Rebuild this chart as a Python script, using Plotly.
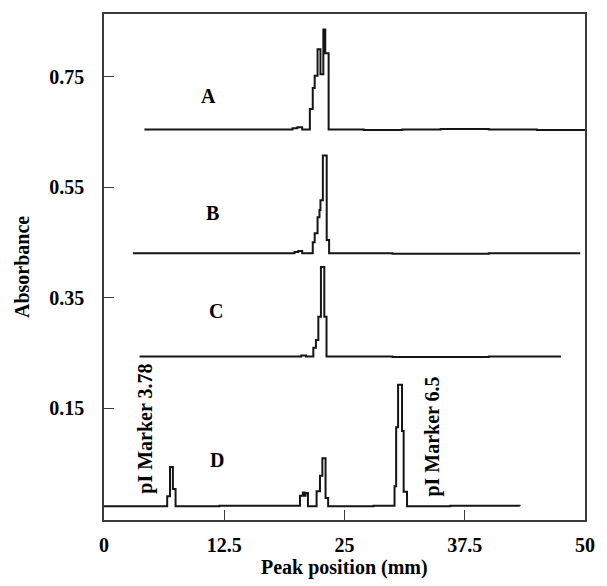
import plotly.graph_objects as go

# Densitometer scans of the gel lanes, drawn as stepped traces
# (peak position in mm, absorbance)
lane_a_x = [4.2, 12.0, 19.6, 20.1, 20.6, 21.4, 21.7, 21.9, 22.2, 22.5, 22.8, 23.0, 23.35,
            27.0, 31.0, 35.0, 40.0, 45.0, 50.0]
lane_a_y = [0.655, 0.655, 0.657, 0.659, 0.655, 0.692, 0.730, 0.752, 0.800, 0.755, 0.836, 0.793, 0.655,
            0.654, 0.655, 0.656, 0.655, 0.654, 0.654]

lane_b_x = [3.0, 10.0, 19.8, 20.2, 20.6, 21.7, 21.9, 22.2, 22.4, 22.5, 22.75, 23.15, 23.4,
            30.0, 40.0, 49.5]
lane_b_y = [0.431, 0.431, 0.433, 0.435, 0.431, 0.451, 0.467, 0.496, 0.509, 0.527, 0.608, 0.455, 0.431,
            0.430, 0.431, 0.431]

lane_c_x = [3.7, 15.0, 20.5, 21.0, 21.76, 22.03, 22.28, 22.55, 22.9, 23.13, 30.0, 40.0, 47.5]
lane_c_y = [0.244, 0.244, 0.246, 0.244, 0.260, 0.274, 0.316, 0.406, 0.316, 0.244, 0.243, 0.244, 0.244]

lane_d_x = [0.0, 6.57, 6.86, 7.16, 7.44, 12.0, 20.37, 20.67, 20.85, 20.95, 21.2,
            22.1, 22.45, 22.7, 23.03, 23.3, 28.0, 30.2, 30.37, 30.57, 30.98, 31.15, 31.5,
            36.0, 43.2]
lane_d_y = [-0.027, -0.009, 0.044, 0.004, -0.027, -0.026, -0.008, -0.002, -0.008, -0.003, -0.027,
            0.000, 0.028, 0.060, -0.012, -0.027, -0.026, 0.009, 0.116, 0.193, 0.109, -0.001, -0.027,
            -0.026, -0.027]

lanes = [(lane_a_x, lane_a_y), (lane_b_x, lane_b_y), (lane_c_x, lane_c_y), (lane_d_x, lane_d_y)]

# Lane letters and marker labels
lane_labels = ["A", "B", "C", "D"]
lane_label_x = [10.85, 11.26, 11.67, 11.77]
lane_label_y = [0.716, 0.503, 0.327, 0.056]

marker_labels = ["pI Marker 3.78", "pI Marker 6.5"]
marker_x = [4.3, 34.2]
marker_y = [0.114, 0.099]

x_ticks = [0, 12.5, 25, 37.5, 50]
x_tick_text = ["0", "12.5", "25", "37.5", "50"]
y_ticks = [0.15, 0.35, 0.55, 0.75]
y_tick_text = ["0.15", "0.35", "0.55", "0.75"]

FONT = "Liberation Serif, Times New Roman, serif"

fig = go.Figure()
for lx, ly in lanes:
    fig.add_trace(go.Scatter(
        x=lx, y=ly, mode="lines", line_shape="hv",
        line=dict(color="#151515", width=2.0),
        showlegend=False, hoverinfo="skip",
    ))

for txt, tx, ty in zip(lane_labels, lane_label_x, lane_label_y):
    fig.add_annotation(x=tx, y=ty, text=f"<b>{txt}</b>", showarrow=False,
                       font=dict(family=FONT, size=20, color="black"))

for txt, tx, ty in zip(marker_labels, marker_x, marker_y):
    fig.add_annotation(x=tx, y=ty, text=f"<b>{txt}</b>", showarrow=False, textangle=-90,
                       font=dict(family=FONT, size=20, color="black"))

fig.add_annotation(xref="paper", yref="paper", x=0.5, y=0, yshift=-47,
                   text="<b>Peak position (mm)</b>", showarrow=False, yanchor="middle",
                   font=dict(family=FONT, size=20, color="black"))
fig.add_annotation(xref="paper", yref="paper", x=0, xshift=-82, y=0.5,
                   text="<b>Absorbance</b>", showarrow=False, textangle=-90, xanchor="center",
                   font=dict(family=FONT, size=20, color="black"))

axis_common = dict(
    showgrid=False, zeroline=False, showline=True, mirror=True,
    linecolor="#3a3a3a", linewidth=1.5,
    ticks="inside", ticklen=10, tickwidth=1.3, tickcolor="#3a3a3a",
    tickfont=dict(family=FONT, size=20, color="black"),
)

fig.update_xaxes(range=[0, 50], tickmode="array", tickvals=x_ticks, ticktext=[f"<b>{t}</b>" for t in x_tick_text],
                 ticklabelstandoff=6, **axis_common)
fig.update_yaxes(range=[-0.052, 0.864], tickmode="array", tickvals=y_ticks,
                 ticktext=[f"<b>{t}</b>" for t in y_tick_text], ticklabelstandoff=14, **axis_common)

fig.update_layout(
    width=607, height=586,
    margin=dict(l=104, r=14, t=13, b=66),
    paper_bgcolor="white", plot_bgcolor="white",
)

fig.write_html("out.html")
